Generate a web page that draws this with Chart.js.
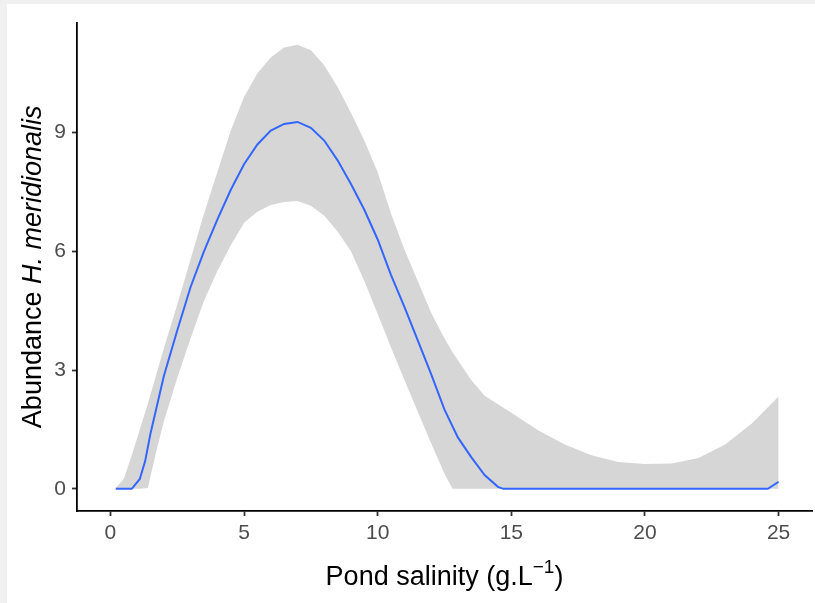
<!DOCTYPE html>
<html>
<head>
<meta charset="utf-8">
<script src="https://cdn.jsdelivr.net/npm/chart.js@4.4.1/dist/chart.umd.min.js"></script>
<style>
  html, body { margin: 0; padding: 0; background: #f0f0f0; }
  #wrap { position: absolute; left: 7px; top: 4px; width: 808px; height: 599px; background: #fff; }
</style>
</head>
<body>
<div id="wrap"><canvas id="chrSalinity" width="808" height="599"></canvas></div>
<script>
// data
const ribbonX = [0.2, 0.5, 0.8, 1.1, 1.4, 1.7, 2, 2.5, 3, 3.5, 4, 4.5, 5, 5.5, 6, 6.5, 7, 7.5, 8, 8.5, 9, 9.5, 10, 10.5, 11, 11.5, 12, 12.5, 12.8, 13.5, 14, 15, 16, 17, 18, 19, 20, 21, 22, 23, 24, 25];
const upperY = [0.03, 0.25, 0.85, 1.5, 2.15, 2.85, 3.55, 4.65, 5.8, 6.95, 8.0, 9.05, 9.9, 10.5, 10.9, 11.15, 11.22, 11.08, 10.7, 10.15, 9.5, 8.8, 8.0, 6.95, 6.05, 5.25, 4.45, 3.8, 3.45, 2.75, 2.35, 1.92, 1.48, 1.12, 0.85, 0.68, 0.63, 0.64, 0.78, 1.12, 1.65, 2.33];
const lowerY = [0, 0, 0, 0, 0.02, 0.9, 1.7, 2.8, 3.8, 4.75, 5.5, 6.15, 6.72, 7.0, 7.17, 7.25, 7.27, 7.15, 6.9, 6.5, 6.0, 5.25, 4.42, 3.57, 2.75, 1.95, 1.15, 0.38, 0, 0, 0, 0, 0, 0, 0, 0, 0, 0, 0, 0, 0, 0];
const fitX = [0.2, 0.8, 1.1, 1.3, 1.5, 2, 2.5, 3, 3.5, 4, 4.5, 5, 5.5, 6, 6.5, 7, 7.5, 8, 8.5, 9, 9.5, 10, 10.5, 11, 11.5, 12, 12.5, 13, 13.5, 14, 14.5, 14.7, 24.6, 25];
const fitY = [0, 0, 0.25, 0.7, 1.4, 2.85, 4.0, 5.1, 6.0, 6.8, 7.55, 8.2, 8.7, 9.05, 9.22, 9.27, 9.12, 8.8, 8.3, 7.7, 7.05, 6.3, 5.4, 4.6, 3.75, 2.9, 2.0, 1.3, 0.8, 0.35, 0.05, 0, 0, 0.18];
const xTicks = [0, 5, 10, 15, 20, 25];
const yTicks = [0, 3, 6, 9];

const FONT = "'Liberation Sans', Arial, sans-serif";

toPoints = (xs, ys) => xs.map((x, i) => ({ x: x, y: ys[i] }));

// axis titles with italic / superscript parts
axisTitles = {
  id: 'axisTitles',
  afterDraw: (chart) => {
    const ctx = chart.ctx;
    const area = chart.chartArea;
    ctx.save();
    ctx.fillStyle = '#000';
    ctx.textBaseline = 'alphabetic';
    ctx.textAlign = 'left';

    // x title
    const big = '27px ' + FONT, small = '19px ' + FONT;
    const p1 = 'Pond salinity (g.L', sup = '\u22121', p3 = ')';
    ctx.font = big; const w1 = ctx.measureText(p1).width, w3 = ctx.measureText(p3).width;
    ctx.font = small; const w2 = ctx.measureText(sup).width;
    let x = (area.left + area.right) / 2 - (w1 + w2 + w3) / 2;
    const yb = area.bottom + 73.5;
    ctx.font = big; ctx.fillText(p1, x, yb); x += w1;
    ctx.font = small; ctx.fillText(sup, x, yb - 12); x += w2;
    ctx.font = big; ctx.fillText(p3, x, yb);

    // y title
    const a = 'Abundance ', b = 'H. meridionalis';
    ctx.font = '27px ' + FONT; const wa = ctx.measureText(a).width;
    ctx.font = 'italic 27px ' + FONT; const wb = ctx.measureText(b).width;
    ctx.translate(area.left - 36.5, (area.top + area.bottom) / 2);
    ctx.rotate(-Math.PI / 2);
    let s = -(wa + wb) / 2;
    ctx.font = '27px ' + FONT; ctx.fillText(a, s, 0); s += wa;
    ctx.font = 'italic 27px ' + FONT; ctx.fillText(b, s, 0);
    ctx.restore();
  }
};

axisStyle = (ticks, size) => ({
  type: 'linear',
  afterBuildTicks: (scale) => { scale.ticks = ticks.map(v => ({ value: v })); },
  grid: { drawOnChartArea: false, drawTicks: true, tickLength: 5, tickColor: '#333', tickWidth: 1.8 },
  border: { display: true, color: '#000', width: 1.8 },
  ticks: { color: '#4d4d4d', font: { family: FONT, size: 21 }, padding: 5, autoSkip: false, maxRotation: 0 },
});

const xScale = axisStyle(xTicks);
xScale.min = -1.25; xScale.max = 26.25;
xScale.afterFit = (scale) => { scale.height = 92; };
const yScale = axisStyle(yTicks);
yScale.min = -0.56; yScale.max = 11.78;
yScale.ticks.padding = 6;
yScale.afterFit = (scale) => { scale.width = 70; };

new Chart(document.getElementById('chrSalinity').getContext('2d'), {
  type: 'line',
  data: {
    datasets: [{
      label: 'lower',
      data: toPoints(ribbonX, lowerY),
      borderWidth: 0,
      pointRadius: 0,
      fill: false,
      order: 2,
    }, {
      label: 'upper',
      data: toPoints(ribbonX, upperY),
      borderWidth: 0,
      pointRadius: 0,
      backgroundColor: '#d6d6d6',
      fill: '-1',
      order: 1,
    }, {
      label: 'fit',
      data: toPoints(fitX, fitY),
      borderColor: '#3366ff',
      borderWidth: 2,
      pointRadius: 0,
      fill: false,
      tension: 0,
      order: 0,
    }]
  },
  options: {
    responsive: false,
    animation: false,
    devicePixelRatio: 1,
    layout: { padding: { top: 13, right: 3, left: 0, bottom: 0 } },
    scales: { x: xScale, y: yScale },
    plugins: {
      legend: { display: false },
      tooltip: { enabled: false },
      filler: { propagate: false }
    }
  },
  plugins: [axisTitles]
});
</script>
</body>
</html>
